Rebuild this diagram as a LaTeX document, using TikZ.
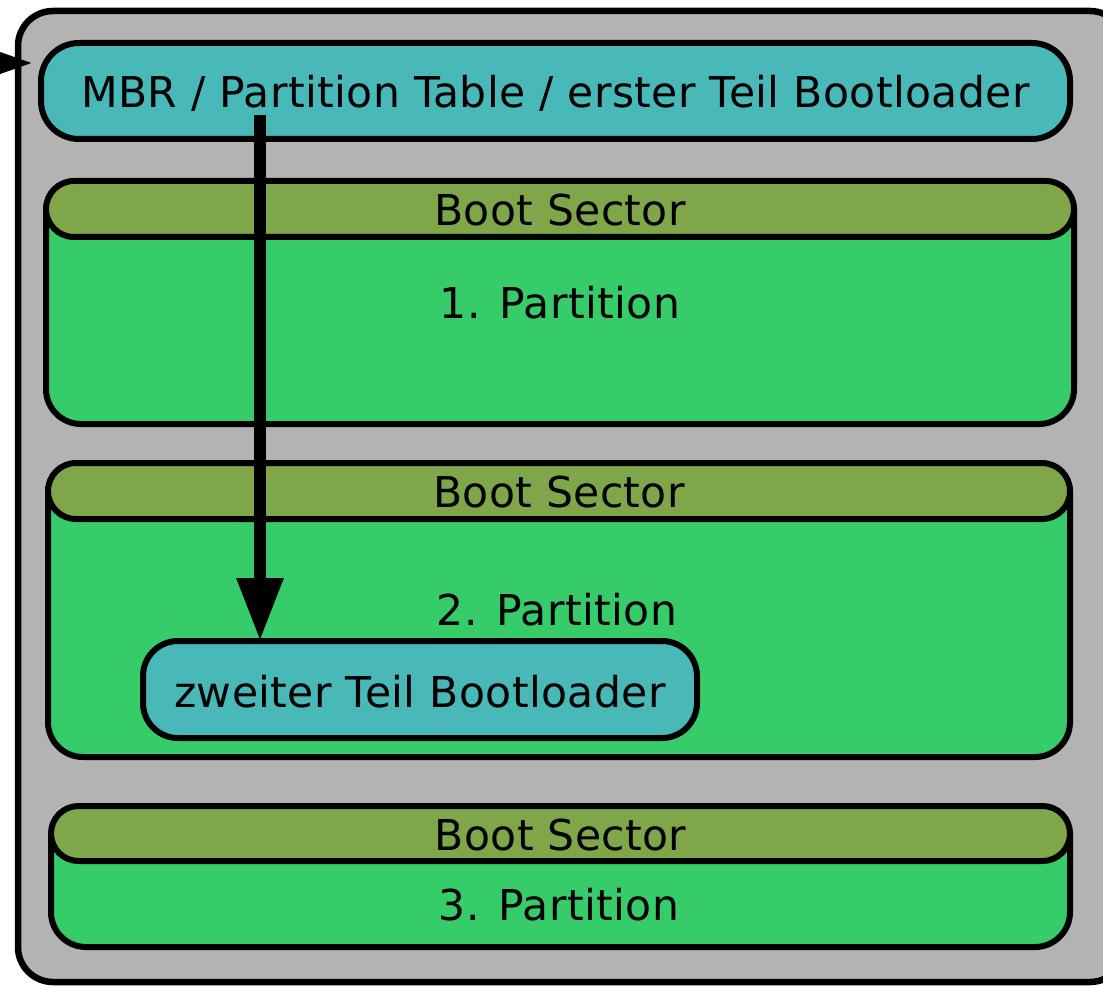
\documentclass[tikz,border=0pt]{standalone}
\usepackage{fontspec}
\setmainfont{DejaVu Sans}[LetterSpace=1.0]
\usetikzlibrary{arrows.meta}
\definecolor{outerfill}{HTML}{B3B3B3}
\definecolor{tealfill}{HTML}{48B8B8}
\definecolor{olivefill}{HTML}{80A64A}
\definecolor{greenfill}{HTML}{37CC6A}
\tikzset{
  stroke/.style={draw=black, line width=6pt},
  txt/.style={font=\fontsize{42.5}{50}\selectfont},
  bluebox/.style={stroke, fill=tealfill, inner sep=0pt, txt, text height=33pt, text depth=0pt},
  header/.style={stroke, fill=olivefill, inner sep=0pt, txt, text height=33pt, text depth=0pt},
  lbl/.style={inner sep=0pt, txt, anchor=base},
  body/.style={stroke, fill=greenfill, rounded corners=35pt},
  bigarrow/.style={line width=12pt, -{Triangle[length=63pt, width=44pt]}},
  smallarrow/.style={line width=5pt, -{Triangle[length=34pt, width=22pt]}}
}
\begin{document}
\begin{tikzpicture}[x=1pt, y=-1pt]
\useasboundingbox (0,0) rectangle (1103,987);
% outer disk
\draw[stroke, line width=6.5pt, fill=outerfill, rounded corners=35pt] (18,11) rectangle (1125,982);
% MBR
\node[bluebox, rounded corners=38pt, minimum width=1029pt, minimum height=96pt] (mbr) at (555.5,91) {MBR / Partition Table / erster Teil Bootloader};
% Partition 1
\draw[body] (46,209) -- (46,424) -- (1074,424) -- (1074,209);
\node[header, rounded corners=28pt, minimum width=1028pt, minimum height=56pt] (bs1) at (560,209) {Boot Sector};
\node[lbl] (p1) at (560,318) {1. Partition};
% Partition 2
\draw[body] (48,491) -- (48,757) -- (1070,757) -- (1070,491);
\node[header, rounded corners=28pt, minimum width=1022pt, minimum height=56pt] (bs2) at (559,491) {Boot Sector};
\node[lbl] (p2) at (557,625) {2. Partition};
% Partition 3
\draw[body] (51,833.5) -- (51,947) -- (1070,947) -- (1070,833.5);
\node[header, rounded corners=27.5pt, minimum width=1019pt, minimum height=55pt] (bs3) at (560.5,833.5) {Boot Sector};
\node[lbl] (p3) at (559,920) {3. Partition};
% zweiter Teil
\node[bluebox, rounded corners=35pt, minimum width=554pt, minimum height=97pt, text height=35pt] (zw) at (420,689.5) {zweiter Teil Bootloader};
% arrows
\coordinate (start) at (260,115);
\coordinate (in) at (-10,63);
\draw[bigarrow] (start) -- ([yshift=-3pt]zw.north -| start);
\draw[smallarrow] (in) -- ([xshift=-6pt]mbr.west |- in);
\end{tikzpicture}
\end{document}
